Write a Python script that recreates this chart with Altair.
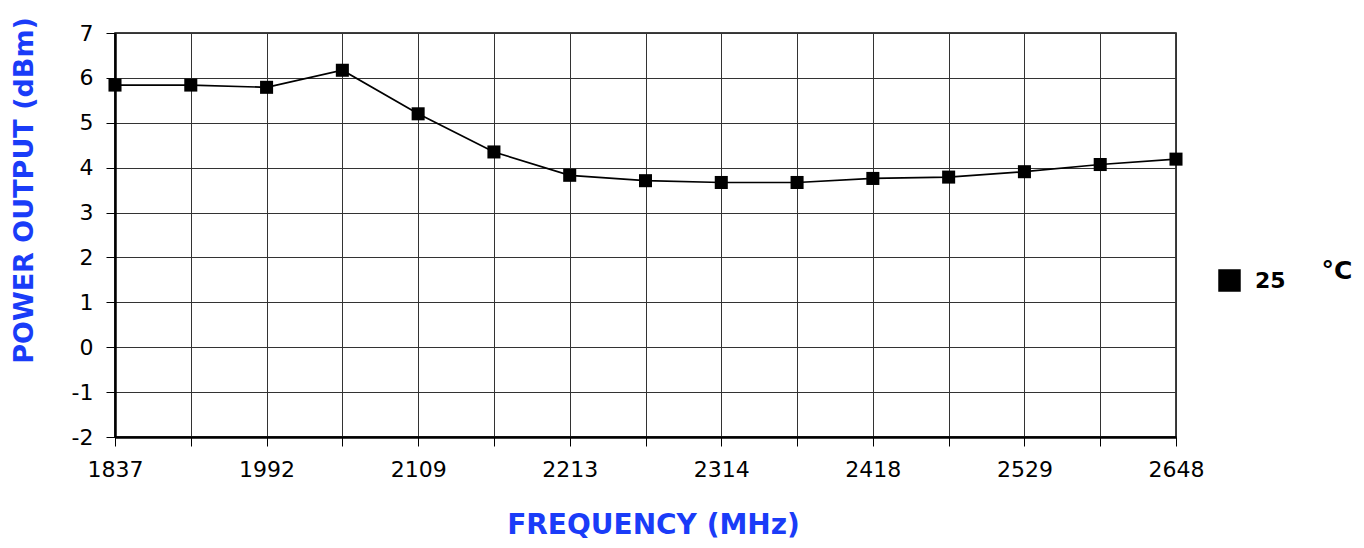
import altair as alt
import pandas as pd

freq_labels = ["1837", "", "1992", "", "2109", "", "2213", "", "2314", "", "2418", "", "2529", "", "2648"]
power_dbm = [5.84, 5.84, 5.79, 6.17, 5.20, 4.35, 3.83, 3.71, 3.67, 3.67, 3.76, 3.79, 3.91, 4.07, 4.19]
series_name = "25"

df = pd.DataFrame({
    "idx": list(range(len(freq_labels))),
    "freq": freq_labels,
    "power": power_dbm,
    "series": [series_name] * len(freq_labels),
})

label_js = "[" + ",".join("'" + s + "'" for s in freq_labels) + "]"

BLUE = "#1a3cf8"
FONT = "DejaVu Sans"

x_enc = alt.X(
    "idx:Q",
    scale=alt.Scale(domain=[0, len(freq_labels) - 1], nice=False, zero=False),
    axis=alt.Axis(
        values=list(range(len(freq_labels))),
        labelExpr=label_js + "[datum.value]",
        title="FREQUENCY (MHz)",
        titleFontSize=28, titleFontWeight="bold", titleColor=BLUE, titleFont=FONT,
        titleX=538, titleY=88, titleBaseline="middle", titleAlign="center",
        labelFontSize=22, labelFont=FONT, labelColor="black", labelPadding=13,
        tickSize=9, tickColor="black", tickWidth=1,
        domainColor="black", domainWidth=2.5,
        grid=True, gridColor="#333333", gridWidth=1,
        labelFlush=False, labelOverlap=False,
    ),
)
y_enc = alt.Y(
    "power:Q",
    scale=alt.Scale(domain=[-2, 7], nice=False, zero=False),
    axis=alt.Axis(
        values=list(range(-2, 8)),
        labelExpr="datum.value < 0 ? '-' + (-datum.value) : '' + datum.value",
        title="POWER OUTPUT (dBm)",
        titleFontSize=27, titleFontWeight="bold", titleColor=BLUE, titleFont=FONT,
        titleX=-91, titleY=157, titleAngle=270, titleBaseline="middle", titleAlign="center",
        labelFontSize=22, labelFont=FONT, labelColor="black", labelPadding=13,
        tickSize=9, tickColor="black", tickWidth=1,
        domainColor="black", domainWidth=2.5,
        grid=True, gridColor="#333333", gridWidth=1,
    ),
)

color_enc = alt.Color(
    "series:N",
    scale=alt.Scale(range=["black"]),
    legend=alt.Legend(
        title=None, orient="none", legendX=1103, legendY=236,
        symbolType="square", symbolSize=440, symbolFillColor="black", symbolStrokeColor="black",
        labelFontSize=22, labelFontWeight="bold", labelFont=FONT, labelColor="black",
        labelOffset=14, labelBaseline="middle",
    ),
)

line = alt.Chart(df).mark_line(strokeWidth=1.7).encode(x=x_enc, y=y_enc, color=color_enc)
pts = alt.Chart(df).mark_point(shape="square", filled=True, size=170, opacity=1).encode(
    x="idx:Q", y="power:Q", color=alt.Color("series:N", scale=alt.Scale(range=["black"]), legend=None)
)
deg = alt.Chart(pd.DataFrame({"t": ["°C"]})).mark_text(
    fontSize=25, fontWeight="bold", font=FONT, color="black", align="center", baseline="middle"
).encode(text="t:N", x=alt.value(1222), y=alt.value(238))

chart = (
    alt.layer(line, pts, deg)
    .properties(
        width=1061, height=404,
        autosize=alt.AutoSizeParams(type="none"),
        padding={"left": 107, "top": 25, "right": 180, "bottom": 103},
        background="white",
    )
    .configure_view(stroke="black", strokeWidth=1.5)
)

chart.save("out.html", embed_options={"renderer": "svg", "actions": False})
